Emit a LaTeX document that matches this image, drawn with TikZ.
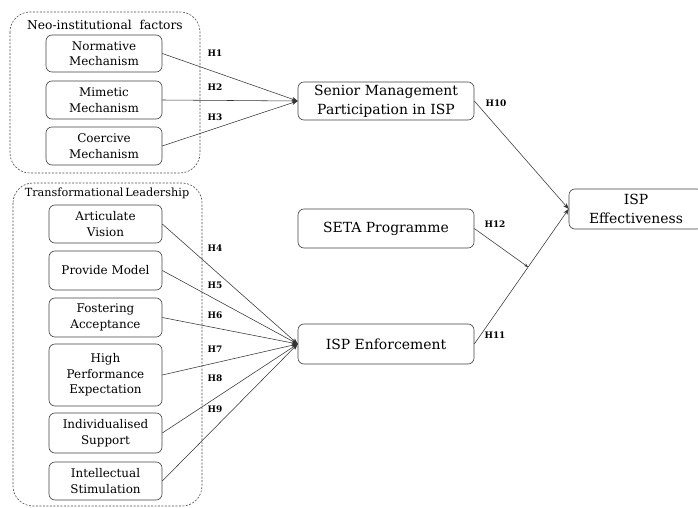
\documentclass[tikz,border=0pt]{standalone}
\usepackage{fontspec}
\setmainfont{DejaVu Serif}
\usetikzlibrary{arrows.meta,calc}
\begin{document}
\begin{tikzpicture}[x=1bp,y=-1bp,
  group/.style={draw=black!70,dashed,dash pattern=on 2pt off 1.5pt,rounded corners=20bp,line width=0.6pt},
  factor/.style={draw=black!75,rounded corners=6bp,line width=0.6pt,minimum width=113bp,align=center,
    font=\fontsize{12}{15.5}\selectfont,inner sep=1pt},
  construct/.style={draw=black!75,rounded corners=6bp,line width=0.6pt,minimum width=176bp,align=center,
    font=\fontsize{14}{19}\selectfont,inner sep=1pt},
  link/.style={draw=black!80,line width=0.55pt,-{Stealth[length=6pt,width=4.5pt]}},
  hyp/.style={font=\fontsize{9}{10}\selectfont\bfseries,inner sep=0pt},
  grouptitle/.style={inner sep=0pt,fill=white}]
\useasboundingbox (0,0) rectangle (698,508);
\clip (0,0) rectangle (698,508);

% dashed groupings
\draw[group] (10,12) rectangle (200,173);
\draw[group] (13,183) rectangle (202,506);
\node[grouptitle,font=\fontsize{12.3}{14}\selectfont] (neo) at (105,25) {Neo-institutional\ \ factors};
\node[grouptitle,font=\fontsize{11.3}{13}\selectfont] (tl) at (107,193) {Transformational\hspace{0.15em}Leadership};

% neo-institutional factors
\node[factor,minimum width=116bp,minimum height=37bp] (norm) at (104,53.5) {Normative\\Mechanism};
\node[factor,minimum width=116bp,minimum height=38bp] (mime) at (104,100) {Mimetic\\Mechanism};
\node[factor,minimum width=116bp,minimum height=38bp] (coer) at (104,146) {Coercive\\Mechanism};

% transformational leadership factors
\node[factor,minimum height=38bp] (artv) at (105.5,224) {Articulate\\Vision};
\node[factor,minimum height=39bp] (prov) at (105.5,270.5) {Provide Model};
\node[factor,minimum height=39bp] (fost) at (105.5,317.5) {Fostering\\Acceptance};
\node[factor,minimum height=62bp] (hpe) at (105.5,375) {High\\Performance\\Expectation};
\node[factor,minimum height=40bp] (indv) at (105.5,433) {Individualised\\Support};
\node[factor,minimum height=38bp] (intl) at (105.5,481) {Intellectual\\Stimulation};

% central constructs
\node[construct,minimum height=38bp] (smp) at (386,101) {Senior Management\\Participation in ISP};
\node[construct,minimum height=39bp] (seta) at (386,228.5) {SETA Programme};
\node[construct,minimum height=40bp] (enf) at (386,344) {ISP Enforcement};
\node[construct,minimum width=134bp,minimum height=40bp] (eff) at (636,209) {ISP\\Effectiveness};

% paths into senior management participation
\draw[link] (norm.east) -- (smp.west);
\draw[link] (mime.east) -- (smp.west);
\draw[link] (coer.east) -- (smp.west);

% paths into enforcement
\foreach \s in {artv,prov,fost,hpe,indv,intl}
  \draw[link] (\s.east) -- (enf.west);

% paths into effectiveness
\draw[link] (smp.east) -- (eff.west);
\draw[link] (enf.east) -- (eff.west);
\coordinate (mod) at ($(enf.east)!0.57!(eff.west)$);
\draw[link,-{Stealth[length=4pt,width=3pt]}] (seta.east) -- (mod);

% hypothesis labels
\node[hyp] (h1) at (215,53) {H1};
\node[hyp] (h2) at (215,87) {H2};
\node[hyp] (h3) at (215,117) {H3};
\node[hyp] (h4) at (215,248) {H4};
\node[hyp] (h5) at (215,285) {H5};
\node[hyp] (h6) at (215,315) {H6};
\node[hyp] (h7) at (215,349) {H7};
\node[hyp] (h8) at (215,378) {H8};
\node[hyp] (h9) at (215,409) {H9};
\node[hyp] (h10) at (496,103) {H10};
\node[hyp] (h12) at (495,224) {H12};
\node[hyp] (h11) at (495,335) {H11};
\end{tikzpicture}
\end{document}
